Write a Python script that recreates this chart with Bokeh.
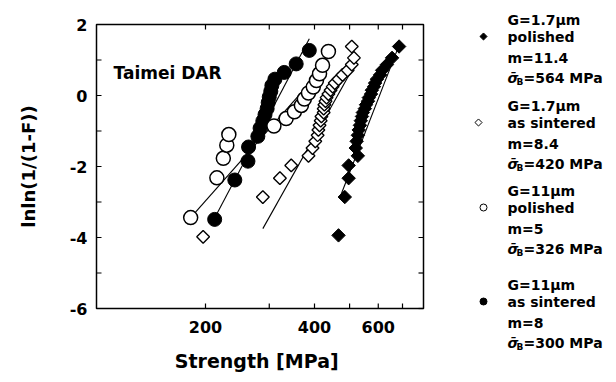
import numpy as np
from bokeh.plotting import figure
from bokeh.models import Range1d, LogScale
from bokeh.embed import file_html
from bokeh.resources import INLINE
from bokeh.core.properties import value

FONT = "DejaVu Sans"

# ---------------- data ----------------
# G=11um as sintered (filled circles)
fc_strength = [212, 241, 262, 263, 279, 283, 288, 292, 296, 298, 300, 303, 305, 311, 330, 356, 387]
fc_lnln = [-3.49, -2.38, -1.85, -1.45, -1.15, -0.92, -0.72, -0.54, -0.37, -0.20, -0.04,
           0.12, 0.28, 0.46, 0.65, 0.89, 1.27]
# G=11um polished (open circles)
oc_strength = [182, 215, 224, 229, 232, 309, 334, 352, 368, 375, 385, 397, 405, 413, 421, 437]
oc_lnln = [-3.44, -2.32, -1.77, -1.40, -1.10, -0.86, -0.65, -0.46, -0.28, -0.10, 0.07,
           0.24, 0.42, 0.61, 0.85, 1.24]
# G=1.7um as sintered (open diamonds)
od_strength = [197, 288, 321, 345, 385, 395, 402, 408, 410, 413, 416, 418, 424, 424, 426, 429,
               432, 437, 443, 449, 455, 466, 478, 494, 507, 514, 507]
od_lnln = [-3.98, -2.86, -2.33, -1.97, -1.70, -1.48, -1.29, -1.12, -0.97, -0.84, -0.71, -0.59,
           -0.48, -0.37, -0.26, -0.16, -0.06, 0.04, 0.15, 0.25, 0.35, 0.46, 0.58, 0.71, 0.87,
           1.06, 1.38]
# G=1.7um polished (filled diamonds)
fd_strength = [466, 485, 497, 497, 527, 520, 523, 527, 530, 534, 537, 541, 544, 551, 555, 562,
               565, 573, 576, 584, 588, 595, 607, 615, 634, 655, 685]
fd_lnln = [-3.94, -2.86, -2.33, -1.97, -1.70, -1.48, -1.29, -1.12, -0.97, -0.84, -0.71, -0.59,
           -0.48, -0.37, -0.26, -0.16, -0.06, 0.04, 0.15, 0.25, 0.35, 0.46, 0.58, 0.71, 0.87,
           1.06, 1.38]

# fitted Weibull lines (end points)
fit_fc_x = [212, 387]
fit_fc_y = [-3.45, 1.60]
fit_oc_x = [182, 430]
fit_oc_y = [-3.44, 0.86]
fit_od_x = [288, 506]
fit_od_y = [-3.75, 0.70]
fit_fd_x = [469, 685]
fit_fd_y = [-2.90, 1.42]

x_limits = [100, 800]
y_limits = [-6, 2]
x_major = [200, 400, 600]
x_minor = [300, 500, 700]
y_major = [2, 0, -2, -4, -6]
y_minor = [1, -1, -3, -5]
x_tick_labels = ["200", "400", "600"]
y_tick_labels = ["2", "0", "-2", "-4", "-6"]

legend_grain = ["G=1.7\u03bcm", "G=1.7\u03bcm", "G=11\u03bcm", "G=11\u03bcm"]
legend_surface = ["polished", "as sintered", "polished", "as sintered"]
legend_m = ["m=11.4", "m=8.4", "m=5", "m=8"]
legend_sigma = ["=564 MPa", "=420 MPa", "=326 MPa", "=300 MPa"]

# ---------------- layout (pixels) ----------------
W, H = 616, 382
FL, FT, FW, FH = 96, 24, 327, 284           # plotting box in page pixels
dec = FW / np.log10(x_limits[1] / x_limits[0])   # px per decade
upy = FH / (y_limits[1] - y_limits[0])            # px per y unit

def px2x(px):
    return x_limits[0] * 10 ** ((px - FL) / dec)

def py2y(py):
    return y_limits[1] - (py - FT) / upy

p = figure(width=W, height=H, x_axis_type=None, y_axis_type=None,
           x_range=Range1d(px2x(0), px2x(W)), y_range=Range1d(py2y(H), py2y(0)),
           toolbar_location=None, output_backend="svg", min_border=0)
p.x_scale = LogScale()
p.grid.visible = False
p.outline_line_color = None
p.background_fill_color = "white"
p.border_fill_color = "white"

def T(xs, ys, texts, size="16px", align="left", baseline="middle", xo=0, yo=0, angle=0,
      style="bold"):
    p.text(x=xs, y=ys, text=texts, text_font=value(FONT), text_font_style=style,
           text_font_size=size, text_align=align, text_baseline=baseline, x_offset=xo,
           y_offset=yo, angle=angle, text_color="black")

# box
p.quad(left=[x_limits[0]], right=[x_limits[1]], bottom=[y_limits[0]], top=[y_limits[1]],
       fill_color=None, line_color="black", line_width=1.5)

# inward ticks on all four sides
yt = y_major + y_minor
xt = x_major + x_minor
TL = 5
p.ray(x=[x_limits[0]] * len(yt), y=yt, length=TL, length_units="screen", angle=0,
      line_color="black", line_width=1.2)
p.ray(x=[x_limits[1]] * len(yt), y=yt, length=TL, length_units="screen", angle=np.pi,
      line_color="black", line_width=1.2)
p.ray(x=xt, y=[y_limits[0]] * len(xt), length=TL, length_units="screen", angle=np.pi / 2,
      line_color="black", line_width=1.2)
p.ray(x=xt, y=[y_limits[1]] * len(xt), length=TL, length_units="screen", angle=-np.pi / 2,
      line_color="black", line_width=1.2)

# tick labels
T([x_limits[0]] * len(y_major), y_major, y_tick_labels, align="right", xo=-9)
T(x_major, [y_limits[0]] * len(x_major), x_tick_labels, align="center", yo=18)

# axis titles
T([np.sqrt(x_limits[0] * x_limits[1])], [y_limits[0]], ["Strength  [MPa]"], size="19px",
  align="center", yo=52)
T([x_limits[0]], [np.mean(y_limits)], ["lnln(1/(1-F))"], size="18px", align="center",
  xo=-68, angle=np.pi / 2)

# fit lines
for lx, ly in [(fit_fc_x, fit_fc_y), (fit_oc_x, fit_oc_y), (fit_od_x, fit_od_y),
               (fit_fd_x, fit_fd_y)]:
    p.line(lx, ly, line_color="black", line_width=1.1)

p.scatter(fc_strength, fc_lnln, marker="circle", size=14, fill_color="black", line_color="black")
p.scatter(oc_strength, oc_lnln, marker="circle", size=14, fill_color="white", line_color="black",
          line_width=1.5)
p.scatter(od_strength, od_lnln, marker="square", angle=np.pi / 4, size=9, fill_color="white",
          line_color="black", line_width=1.4)
p.scatter(fd_strength, fd_lnln, marker="square", angle=np.pi / 4, size=9.5, fill_color="black",
          line_color="black")

T([px2x(113)], [py2y(72)], ["Taimei DAR"], size="17px")

# ---------------- legend ----------------
group_top = [19, 105, 190, 284]   # page y of first line of each group
offs = [0, 17, 38, 58]
tx = px2x(507)
for i in range(4):
    gy = group_top[i]
    T([tx], [py2y(gy + offs[0])], [legend_grain[i]], size="14px")
    T([tx], [py2y(gy + offs[1])], [legend_surface[i]], size="14px")
    T([tx], [py2y(gy + offs[2])], [legend_m[i]], size="14px")
    sy = py2y(gy + offs[3])
    T([tx], [sy], ["\u03c3\u0304"], size="14px", style="bold italic")
    T([tx], [sy], ["B"], size="9px", xo=9, yo=4)
    T([tx], [sy], [legend_sigma[i]], size="14px", xo=16)

mk_y = [py2y(g + offs[1]) for g in group_top]
p.scatter([px2x(483)], [mk_y[0]], marker="square", angle=np.pi / 4, size=5, fill_color="black",
          line_color="black")
p.scatter([px2x(478)], [mk_y[1]], marker="square", angle=np.pi / 4, size=5, fill_color="white",
          line_color="black", line_width=1)
p.scatter([px2x(483)], [mk_y[2]], marker="circle", size=7, fill_color="white",
          line_color="black", line_width=1)
p.scatter([px2x(483)], [mk_y[3]], marker="circle", size=7, fill_color="black",
          line_color="black")

open("out.html", "w").write(file_html(p, INLINE))
